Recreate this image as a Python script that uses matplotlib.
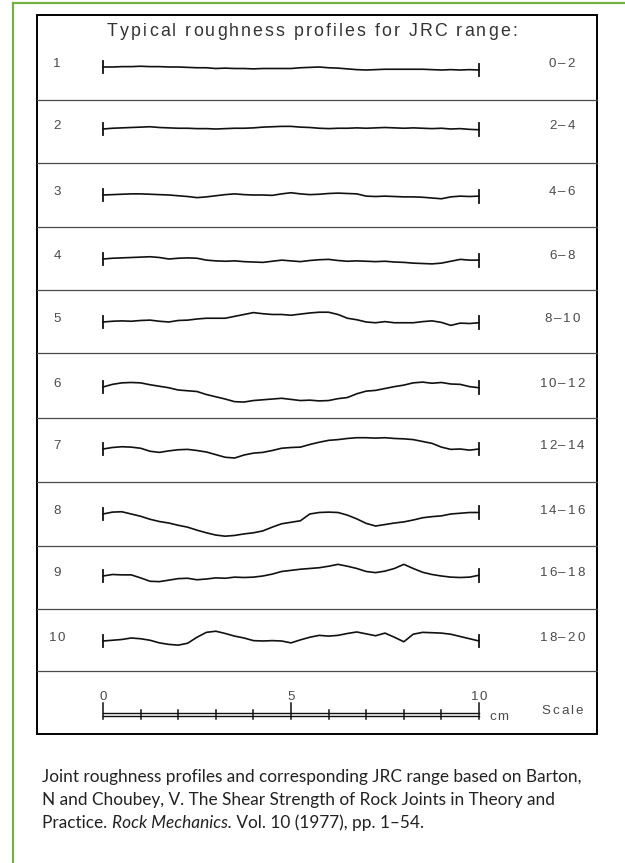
import numpy as np
import matplotlib.pyplot as plt
from matplotlib.lines import Line2D
from matplotlib.patches import Rectangle
from matplotlib.font_manager import FontProperties
from matplotlib.textpath import TextToPath

# figure is laid out in pixels of the 625x863 reference
W, H = 625, 863
PX_CM = 37.6          # 10 cm profile = 376 px
PX_MM = PX_CM / 10.0

# ---------------------------------------------------------------
# data: profile heights (mm, up positive), sampled every 0.25 cm
# ---------------------------------------------------------------
row_numbers = ["1", "2", "3", "4", "5", "6", "7", "8", "9", "10"]
jrc_ranges = ["0–2", "2–4", "4–6", "6–8", "8–10",
              "10–12", "12–14", "14–16", "16–18", "18–20"]

p1 = [0, 0, 0.1, 0.1, 0.2, 0.1, 0.1, 0, 0, -0.1, -0.2, -0.2, -0.4, -0.3, -0.4,
      -0.4, -0.5, -0.4, -0.4, -0.4, -0.4, -0.2, -0.1, 0, -0.2, -0.3, -0.5, -0.7,
      -0.8, -0.7, -0.6, -0.6, -0.6, -0.6, -0.6, -0.7, -0.8, -0.7, -0.8, -0.7, -0.8]
p2 = [0, 0.2, 0.3, 0.4, 0.5, 0.6, 0.4, 0.3, 0.2, 0.2, 0.1, 0.1, 0.0, 0.1, 0.2,
      0.2, 0.3, 0.5, 0.6, 0.7, 0.7, 0.5, 0.4, 0.2, 0.1, 0.2, 0.2, 0.3, 0.2, 0.3,
      0.4, 0.3, 0.2, 0.3, 0.2, 0.1, 0.2, 0.0, 0.1, -0.1, -0.2]
p3 = [0, 0.1, 0.2, 0.3, 0.3, 0.2, 0.1, 0.0, -0.2, -0.4, -0.7, -0.5, -0.2, 0.1,
      0.3, 0.1, 0.0, 0.0, -0.1, 0.3, 0.6, 0.3, 0.1, 0.2, 0.4, 0.5, 0.4, 0.3,
      -0.3, -0.4, -0.3, -0.4, -0.5, -0.5, -0.6, -0.8, -1.0, -0.5, -0.3, -0.4, -0.3]
p4 = [0, 0.2, 0.3, 0.4, 0.5, 0.6, 0.4, 0.0, 0.2, 0.3, 0.2, -0.3, -0.5, -0.6,
      -0.5, -0.7, -0.8, -0.9, -0.6, -0.3, -0.5, -0.7, -0.4, -0.2, -0.1, -0.4,
      -0.6, -0.5, -0.6, -0.7, -0.6, -0.8, -0.9, -1.1, -1.2, -1.3, -1.1, -0.6,
      -0.1, -0.3, -0.3]
p5 = [0, 0.2, 0.3, 0.2, 0.4, 0.5, 0.2, 0.0, 0.4, 0.5, 0.8, 1.0, 1.0, 1.0, 1.5,
      2.0, 2.5, 2.2, 2.0, 2.0, 1.8, 2.1, 2.4, 2.6, 2.6, 2.0, 1.0, 0.6, 0.0,
      -0.2, 0.1, -0.2, -0.2, -0.2, 0.1, 0.3, -0.1, -0.9, -0.3, -0.4, -0.2]
p6 = [0, 0.7, 1.1, 1.2, 1.1, 0.6, 0.2, -0.2, -0.8, -1.0, -1.2, -2.0, -2.6,
      -3.2, -3.9, -4.0, -3.6, -3.4, -3.2, -3.0, -3.3, -3.6, -3.5, -3.7, -3.6,
      -3.1, -2.8, -1.8, -1.1, -0.9, -0.4, 0.1, 0.5, 1.1, 1.3, 1.0, 1.2, 0.8,
      0.7, 0.1, -0.2]
p7 = [0, 0.4, 0.6, 0.5, 0.2, -0.6, -0.9, -0.5, -0.2, -0.1, -0.4, -0.8, -1.5,
      -2.2, -2.4, -1.6, -1.1, -0.9, -0.4, 0.2, 0.4, 0.5, 1.2, 1.8, 2.3, 2.5,
      2.8, 3.0, 3.0, 2.9, 3.0, 2.8, 2.7, 2.5, 2.0, 1.5, 0.5, -0.1, 0.0, -0.3, 0.0]
p8 = [0, 0.5, 0.6, 0.0, -0.6, -1.4, -2.0, -2.4, -3.0, -3.5, -4.3, -5.0, -5.6,
      -5.9, -5.7, -5.3, -5.0, -4.5, -3.5, -2.6, -2.2, -1.8, 0.0, 0.4, 0.5, 0.4,
      -0.3, -1.3, -2.5, -3.2, -2.8, -2.4, -2.1, -1.6, -1.0, -0.7, -0.5, 0.0,
      0.2, 0.4, 0.4]
p9 = [0, 0.4, 0.3, 0.3, -0.5, -1.4, -1.5, -1.1, -0.7, -0.6, -1.0, -0.8, -0.5,
      -0.6, -0.3, -0.4, -0.3, 0.0, 0.5, 1.2, 1.5, 1.8, 2.0, 2.2, 2.6, 3.1, 2.6,
      2.0, 1.2, 0.9, 1.3, 2.0, 3.1, 2.0, 1.0, 0.4, 0.0, -0.3, -0.4, -0.3, 0.2]
p10 = [0, 0.2, 0.4, 0.8, 0.6, 0.2, -0.5, -0.9, -1.1, -0.6, 1.0, 2.3, 2.6, 2.0,
       1.3, 0.8, 0.1, 0.0, 0.1, 0.0, -0.5, 0.3, 1.0, 1.5, 1.3, 1.5, 2.0, 2.4,
       1.9, 1.4, 2.1, 1.0, -0.2, 1.8, 2.3, 2.2, 2.1, 1.8, 1.2, 0.6, 0.0]
profiles = [p1, p2, p3, p4, p5, p6, p7, p8, p9, p10]

scale_cm = [0, 1, 2, 3, 4, 5, 6, 7, 8, 9, 10]
scale_labels = {0: "0", 5: "5", 10: "10"}

# ---------------------------------------------------------------
# layout (pixels)
# ---------------------------------------------------------------
BOX_L, BOX_R, BOX_T, BOX_B = 37, 597, 15, 734
PROF_X0 = 103
row_edges = [BOX_T, 100, 163, 227, 290, 353, 418, 482, 546, 609, 671, BOX_B]
base_y = [67, 129, 195, 259, 322, 387, 449, 514, 576, 641, 713]

GREY = "#4a4a4a"
GREEN = "#76b043"
LABEL_X = 562
NUM_X = 57

_t2p = TextToPath()


def fx(x):
    return x / W


def fy(y):
    return 1 - y / H


def spaced_text(x, y, s, size, track=0.0, width=None, ha="left", color="#4a4a4a"):
    """Draw s letter by letter (old drafting-style tracking), x/y in px."""
    prop = FontProperties(family="Liberation Sans", size=size)
    adv = [_t2p.get_text_width_height_descent(c, prop, ismath=False)[0] * 100 / 72 for c in s]
    if width is not None and len(s) > 1:
        track = (width - sum(adv)) / (len(s) - 1)
    total = sum(adv) + track * (len(s) - 1)
    pos = x - total / 2 if ha == "center" else x
    for c, a in zip(s, adv):
        fig.text(fx(pos), fy(y), c, fontproperties=prop, ha="left", va="center", color=color)
        pos += a + track


def row_axes(top, bottom, base):
    ax = fig.add_axes([fx(BOX_L), fy(bottom), (BOX_R - BOX_L) / W, (bottom - top) / H])
    ax.set_xlim((BOX_L - PROF_X0) / PX_CM, (BOX_R - PROF_X0) / PX_CM)
    ax.set_ylim(-(bottom - base) / PX_MM, (base - top) / PX_MM)
    ax.axis("off")
    return ax


fig = plt.figure(figsize=(W / 100, H / 100), dpi=100)
fig.patch.set_facecolor("white")

# green frame (top and left only)
fig.add_artist(Line2D([fx(13), 1], [fy(3), fy(3)], color=GREEN, lw=1.6))
fig.add_artist(Line2D([fx(13), fx(13)], [fy(3), 0], color=GREEN, lw=1.6))

# black box and row separators
fig.add_artist(Rectangle((fx(BOX_L), fy(BOX_B)), (BOX_R - BOX_L) / W,
                         (BOX_B - BOX_T) / H, fill=False, ec="black", lw=1.4))
for y in row_edges[1:-1]:
    fig.add_artist(Line2D([fx(BOX_L), fx(BOX_R)], [fy(y), fy(y)], color=GREY, lw=0.9))

spaced_text(312, 32, "Typical roughness profiles for JRC range:", 12.8,
            width=410, ha="center", color="#333333")

LBL = 9.6
TRACK = 2.0
for i, h in enumerate(profiles):
    ax = row_axes(row_edges[i], row_edges[i + 1], base_y[i])
    x = np.linspace(0, 10, len(h))
    ax.plot(x, h, color="#111111", lw=1.2, solid_joinstyle="round")
    for xe, he in ((0, h[0]), (10, h[-1])):
        ax.plot([xe, xe], [he - 1.7, he + 1.7], color="#111111", lw=1.3)
    ypx = base_y[i] - 3
    spaced_text(NUM_X, ypx, row_numbers[i], LBL, TRACK, ha="center")
    spaced_text(LABEL_X, ypx, jrc_ranges[i], LBL, TRACK, ha="center")

# scale bar
ax = row_axes(row_edges[-2], row_edges[-1], base_y[-1])
ax.plot([0, 10], [0, 0], color="#111111", lw=1.0)
ax.plot([0, 10], [-0.9, -0.9], color="#111111", lw=1.0)
for c in scale_cm:
    top = 2.6 if c in scale_labels else 0.9
    ax.plot([c, c], [-1.5, top], color="#111111", lw=1.1)
    if c in scale_labels:
        spaced_text(PROF_X0 + c * PX_CM, 697, scale_labels[c], LBL, TRACK, ha="center")
spaced_text(489, 717, "cm", LBL, 1.0)
spaced_text(LABEL_X, 711, "Scale", LBL, TRACK, ha="center")

# caption
cap_kw = dict(fontsize=12.4, color="#222222", family="Lato", va="baseline")
CAP_X = 42
cap_base = [782, 805, 828]
fig.text(fx(CAP_X), fy(cap_base[0]),
         "Joint roughness profiles and corresponding JRC range based on Barton,", **cap_kw)
fig.text(fx(CAP_X), fy(cap_base[1]),
         "N and Choubey, V. The Shear Strength of Rock Joints in Theory and", **cap_kw)
t1 = fig.text(fx(CAP_X), fy(cap_base[2]), "Practice. ", **cap_kw)
t2 = fig.text(0, 0, "Rock Mechanics.", style="italic", **cap_kw)
t3 = fig.text(0, 0, " Vol. 10 (1977), pp. 1–54.", **cap_kw)

# chain the italic part after the plain text
fig.canvas.draw()
r = fig.canvas.get_renderer()
bb = t1.get_window_extent(r)
t2.set_position((bb.x1 / fig.bbox.width, fy(cap_base[2])))
fig.canvas.draw()
bb = t2.get_window_extent(r)
t3.set_position((bb.x1 / fig.bbox.width, fy(cap_base[2])))

fig.savefig("out.png", dpi=100)
